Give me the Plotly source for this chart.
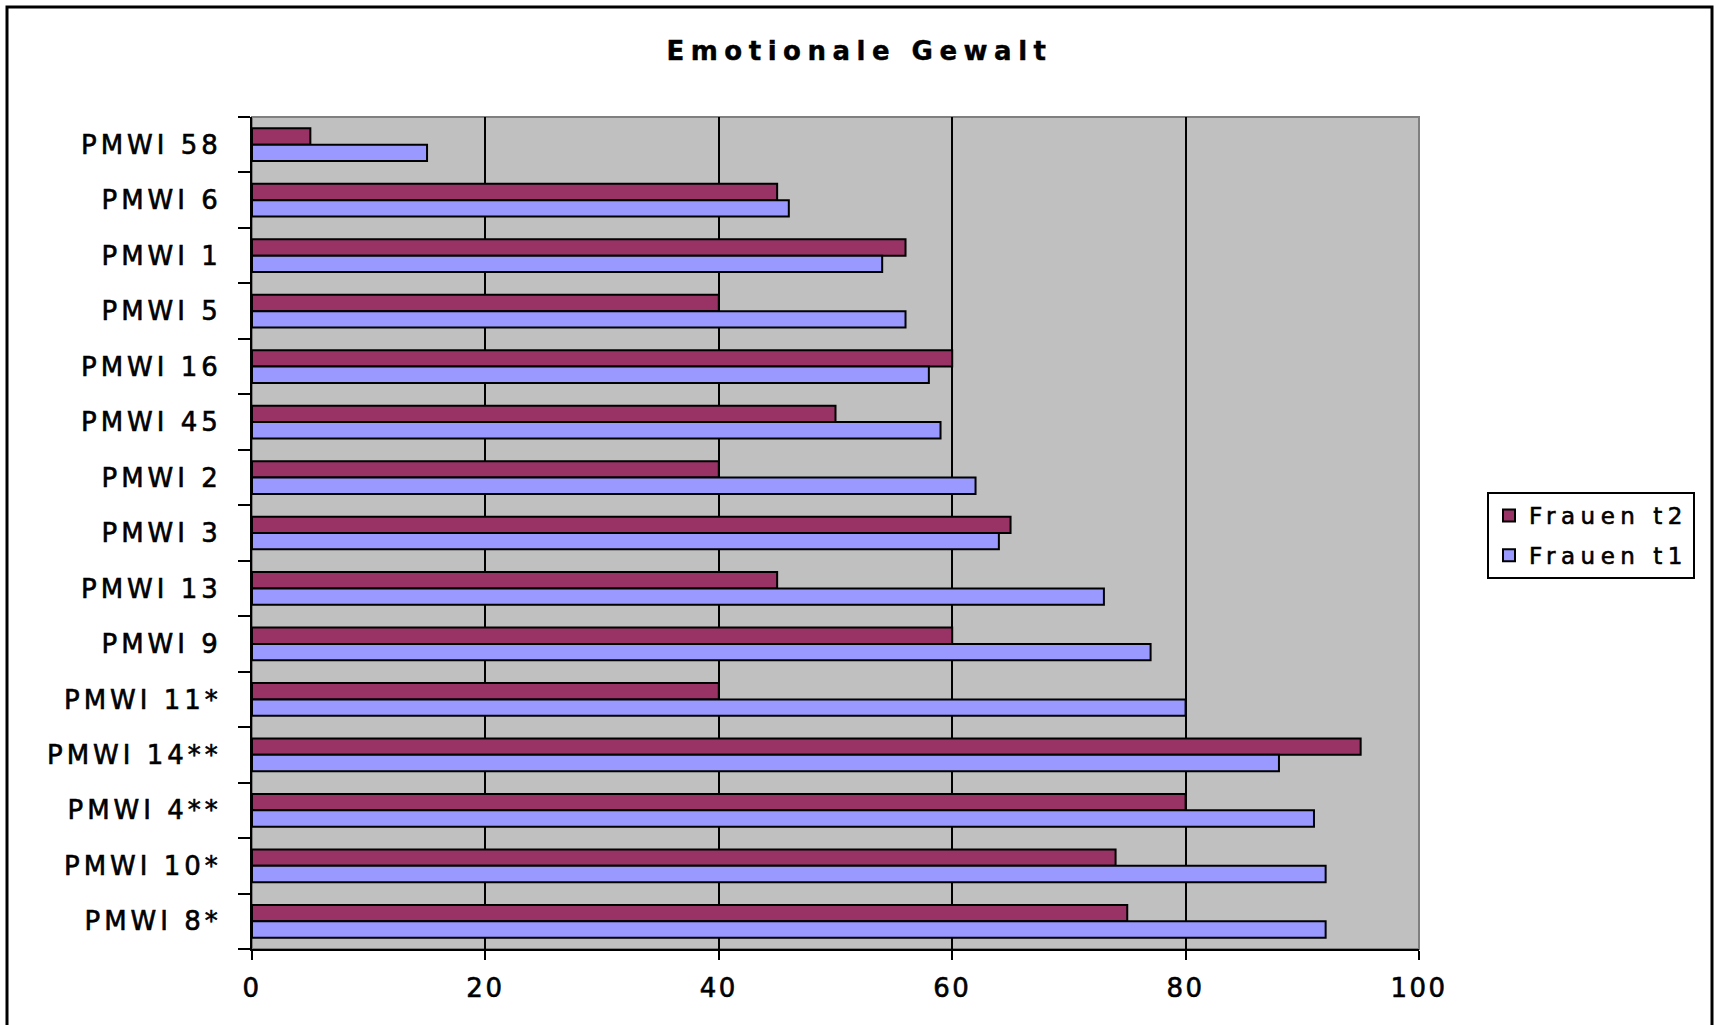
import plotly.graph_objects as go

categories = ["PMWI 58", "PMWI 6", "PMWI 1", "PMWI 5", "PMWI 16", "PMWI 45", "PMWI 2",
              "PMWI 3", "PMWI 13", "PMWI 9", "PMWI 11*", "PMWI 14**", "PMWI 4**",
              "PMWI 10*", "PMWI 8*"]
frauen_t2 = [5, 45, 56, 40, 60, 50, 40, 65, 45, 60, 40, 95, 80, 74, 75]
frauen_t1 = [15, 46, 54, 56, 58, 59, 62, 64, 73, 77, 80, 88, 91, 92, 92]
x_ticks = [0, 20, 40, 60, 80, 100]
series_names = ["Frauen t2", "Frauen t1"]
title_text = "Emotionale Gewalt"


def spaced(txt, ls, sw=0.6):
    return (f'<span style="letter-spacing:{ls}px;stroke:black;'
            f'stroke-width:{sw}px">{txt}</span>')


W, H = 1719, 1025
L, R, T, B = 252, 1419, 117, 949
pw, ph = R - L, B - T
FONT = "DejaVu Sans, Verdana, Arial"

fig = go.Figure()
fig.add_trace(go.Bar(y=categories, x=frauen_t2, orientation="h",
                     name=spaced(series_names[0], 5.5), legendgroup="a",
                     marker=dict(color="#993366", line=dict(color="black", width=2))))
fig.add_trace(go.Bar(y=categories, x=frauen_t1, orientation="h",
                     name=spaced(series_names[1], 5.5), legendgroup="b",
                     marker=dict(color="#9999FF", line=dict(color="black", width=2))))

fig.update_layout(
    width=W, height=H,
    margin=dict(l=L, r=W - R, t=T, b=H - B, autoexpand=False),
    paper_bgcolor="white", plot_bgcolor="#C0C0C0",
    barmode="group", bargap=0.41, bargroupgap=0,
    title=dict(text="<b>" + spaced(title_text, 6.5, 0.4) + "</b>", x=0.5, xref="container",
               xanchor="center", y=1 - 51 / H, yanchor="middle",
               font=dict(family=FONT, size=26, color="black")),
    font=dict(family=FONT, color="black"),
    showlegend=True,
    legend=dict(x=(1487 - L) / pw, y=(B - 492) / ph, xanchor="left", yanchor="top",
                bordercolor="black", borderwidth=2, bgcolor="white",
                font=dict(size=23, family=FONT),
                traceorder="grouped", tracegroupgap=7),
    xaxis=dict(range=[0, 100], tickvals=x_ticks,
               ticktext=[spaced(str(v), 2.5) for v in x_ticks],
               showgrid=True, gridcolor="black", gridwidth=2,
               showline=True, linecolor="black", linewidth=2, zeroline=False,
               ticks="outside", ticklen=9, tickwidth=2, tickcolor="black",
               tickfont=dict(family=FONT, size=26),
               ticklabelstandoff=6),
    yaxis=dict(type="category", autorange="reversed", showgrid=False,
               tickvals=categories, ticktext=[spaced(c, 4) for c in categories],
               showline=True, linecolor="black", linewidth=2,
               ticks="outside", tickson="boundaries", ticklen=12, tickwidth=2,
               tickcolor="black", tickfont=dict(family=FONT, size=26),
               ticklabelstandoff=23),
    shapes=[
        dict(type="rect", xref="paper", yref="paper", x0=0, x1=1, y0=0, y1=1,
             line=dict(color="#808080", width=2), layer="below"),
        dict(type="rect", xref="paper", yref="paper",
             x0=(7 - L) / pw, x1=(1712 - L) / pw, y0=(B - 1040) / ph, y1=(B - 7) / ph,
             line=dict(color="black", width=3)),
    ],
)

fig.write_html("out.html")
